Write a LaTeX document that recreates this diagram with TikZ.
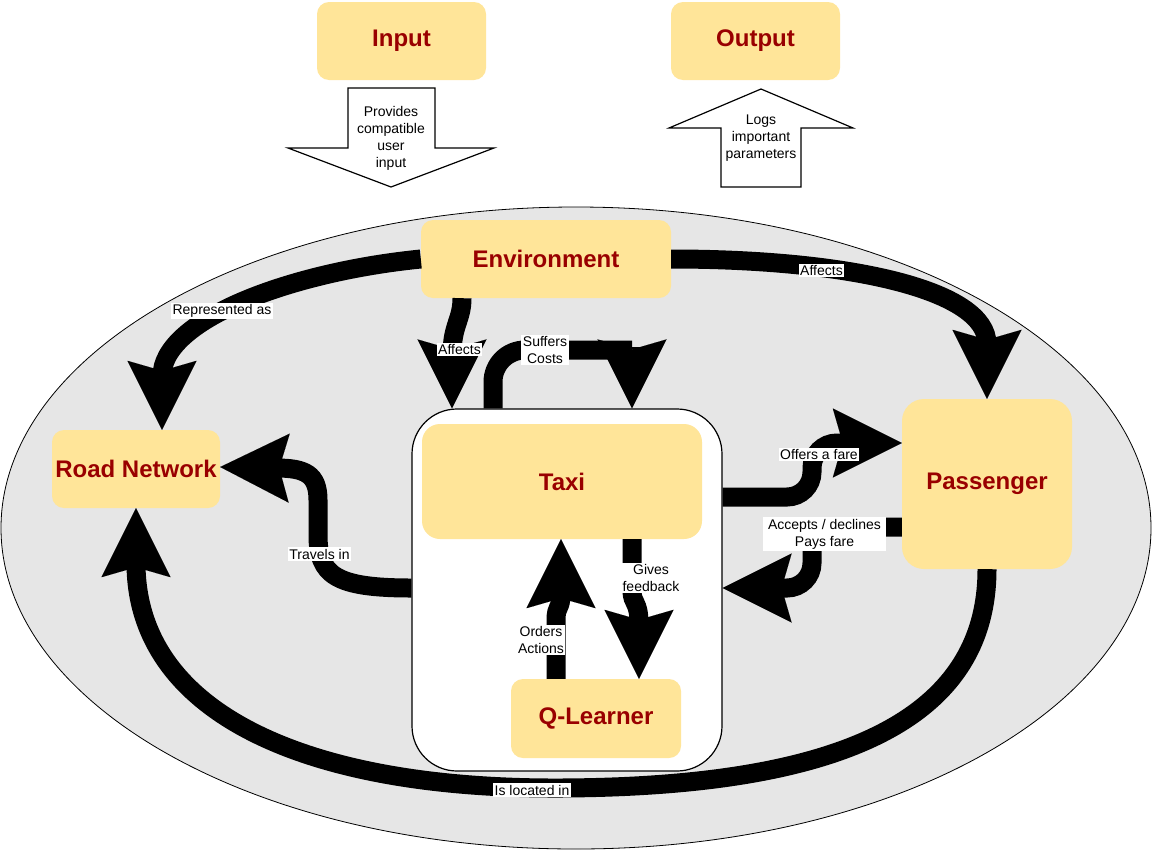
\documentclass[tikz,border=0pt]{standalone}
\usepackage{fontspec}
\setmainfont{Liberation Sans}
\usetikzlibrary{arrows.meta}
\definecolor{boxyellow}{HTML}{FFE599}
\definecolor{darkred}{HTML}{990000}
\definecolor{ellgray}{HTML}{E6E6E6}
\begin{document}
\begin{tikzpicture}[x=1pt,y=-1pt,
  box/.style={fill=boxyellow, text=darkred, font=\bfseries\fontsize{24}{28}\selectfont, inner sep=0pt, rounded corners=12pt},
  lbl/.style={fill=white, text=black, font=\fontsize{14}{17}\selectfont, inner sep=1.5pt, align=center},
  conn/.style={draw=black, line width=19pt, -{Stealth[length=69pt,width=69pt,inset=10pt,line width=0.01pt]}},
  bigarrow/.style={fill=white, draw=black, line width=1.2pt, line join=miter},
  arrtext/.style={font=\fontsize{14}{17}\selectfont, align=center, inner sep=0pt}]
\fill[white] (0,0) rectangle (1153,854);
\useasboundingbox (0,0) rectangle (1153,854);

% top input / output
\node[box, minimum width=169pt, minimum height=78pt] (input) at (401.5,41) {Input};
\node[box, minimum width=169pt, minimum height=78pt] (output) at (755.5,41) {Output};
\draw[bigarrow] (348,88) -- (435,88) -- (435,148) -- (494,148) -- (391,187) -- (288,148) -- (348,148) -- cycle;
\node[arrtext] (intext) at (391,138) {Provides\\compatible\\user\\input};
\draw[bigarrow] (761,89) -- (853,128) -- (801,128) -- (801,187) -- (721,187) -- (721,128) -- (669,128) -- cycle;
\node[arrtext] (outtext) at (761,138) {Logs\\important\\parameters};

% environment ellipse
\draw[fill=ellgray, line width=0.8pt] (576,528) ellipse [x radius=575pt, y radius=321pt];

% boxes
\node[draw=black, fill=white, line width=1.2pt, rounded corners=45pt, minimum width=310pt, minimum height=362pt] (taxibox) at (567,590) {};
\node[box, minimum width=250pt, minimum height=78pt] (env) at (546,259) {Environment};
\node[box, minimum width=168pt, minimum height=78pt] (road) at (136,469) {Road Network};
\node[box, rounded corners=22pt, minimum width=170pt, minimum height=170pt] (passenger) at (987,484) {Passenger};
\node[box, rounded corners=18pt, minimum width=280pt, minimum height=115pt] (taxi) at (562,481.5) {Taxi};
\node[box, minimum width=170pt, minimum height=79pt] (qlearner) at (596,718.5) {Q-Learner};

% connectors
\draw[conn] (env.west) .. controls (290,272) and (162,320) .. (162,376) (162,368) -- (road.north -| 162,0);
\draw[conn] (env.east) .. controls (850,259) and (987,290) .. (987,344) (987,337) -- (passenger.north);
\draw[conn] (env.south -| 462,0) .. controls (462,320) and (452,325) .. (452,355) (452,347) -- (taxibox.north -| 452,0);
\draw[conn, rounded corners=32pt] (taxibox.north -| 493,0) |- (632,350) (632,347) -- (taxibox.north -| 632,0);
\draw[conn, rounded corners=25pt] (taxibox.east |- 0,497) -- (812,497) -- (812,443) -- (847,443) (840,443) -- (passenger.west |- 0,443);
\draw[conn, rounded corners=25pt] (passenger.west |- 0,527) -- (812,527) -- (812,588) -- (777,588) (784,588) -- (taxibox.east |- 0,588);
\draw[conn] (taxibox.west |- 0,588) .. controls (335,588) and (318,575) .. (318,535) -- (318,500) .. controls (318,474) and (305,468) .. (276,468) (282,468) -- (road.east |- 0,467);
\draw[conn] (qlearner.north -| 556,0) -- (556,620) .. controls (556,605) and (561,610) .. (561,594) (561,601) -- (taxi.south -| 561,0);
\draw[conn] (taxi.south -| 632,0) -- (632,590) .. controls (632,605) and (639,600) .. (639,624) (639,617) -- (qlearner.north -| 639,0);
\draw[conn] (passenger.south) .. controls (987,720) and (840,787) .. (560,788) .. controls (300,789) and (136,710) .. (136,563) (136,570) -- (road.south);

% labels
\node[lbl] (lrep) at (222,311) {Represented as};
\node[lbl] (laff1) at (821.5,270.5) {Affects};
\node[lbl] (laff2) at (459.5,349.5) {Affects};
\node[lbl] (lsuf) at (545,350) {Suffers\\Costs};
\node[lbl] (loff) at (819,454.5) {Offers a fare};
\node[lbl, inner xsep=5pt] (lacc) at (824.5,534) {Accepts / declines\\Pays fare};
\node[lbl] (ltrav) at (319.5,554) {Travels in};
\node[lbl] (lord) at (541,640) {Orders\\Actions};
\node[lbl] (lgiv) at (651,578) {Gives\\feedback};
\node[lbl] (lloc) at (532,790) {Is located in};
\end{tikzpicture}
\end{document}
